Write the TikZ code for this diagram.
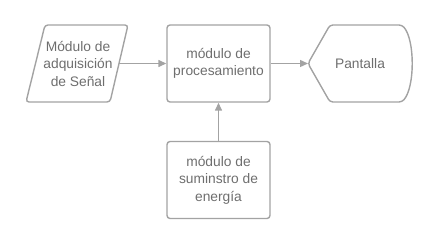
\documentclass[tikz,border=0pt]{standalone}
\usepackage{fontspec}
\setmainfont{Liberation Sans}
\usepackage{tikz}
\usetikzlibrary{arrows.meta, calc, positioning}
\definecolor{linea}{HTML}{A3A3A3}
\definecolor{texto}{HTML}{6E6E6E}

\begin{document}
\begin{tikzpicture}[x=1pt, y=-1pt,
    caja/.style={draw=linea, line width=1.4pt, rounded corners=3pt, text=texto,
        align=center, minimum width=103pt, minimum height=77pt, inner sep=0pt,
        font=\fontsize{13.8}{17.5}\selectfont},
    etiqueta/.style={text=texto, align=center, inner sep=0pt,
        font=\fontsize{13.8}{17.5}\selectfont},
    flecha/.style={draw=linea, line width=1.4pt, -{Triangle[length=8pt, width=7pt]}}]
    \useasboundingbox (0,0) rectangle (437,245);

    % entrada de señal
    \draw[linea, line width=1.4pt, rounded corners=3pt]
        (45,25) -- (128,25) -- (110,102) -- (26,102) -- cycle;
    \node[etiqueta] (senal) at (78,63.5) {Módulo de\\adquisición\\de Señal};
    \coordinate (senal-der) at (119,63.5);

    % procesamiento
    \node[caja] (proc) at (218.5,63.5) {módulo de\\procesamiento};

    % energía
    \node[caja] (energia) at (218.5,180) {módulo de\\suminstro de\\energía};

    % pantalla
    \draw[linea, line width=1.4pt, rounded corners=3pt]
        (308,63.5) -- (330,25) -- (402,25)
        .. controls (415,40) and (415,87) .. (402,102)
        -- (330,102) -- cycle;
    \node[etiqueta] (pantalla) at (360,63.5) {Pantalla};
    \coordinate (pantalla-izq) at (308,63.5);

    % conexiones
    \draw[flecha] (senal-der) -- (proc.west);
    \draw[flecha] (proc.east) -- (pantalla-izq);
    \draw[flecha] (energia.north) -- (proc.south);
\end{tikzpicture}
\end{document}
